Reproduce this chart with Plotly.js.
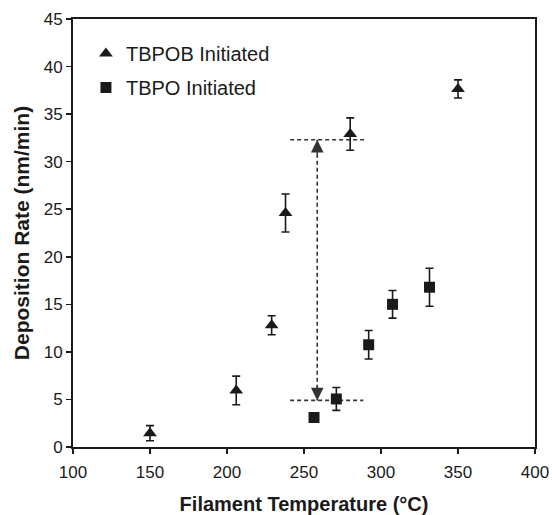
<!DOCTYPE html>
<html>
<head>
<meta charset="utf-8">
<script src="https://cdn.plot.ly/plotly-3.0.1.min.js"></script>
<style>html,body{margin:0;padding:0;background:#fff;}#chart{width:552px;height:515px;}</style>
</head>
<body>
<div id="chart"></div>
<script>
// TBPOB initiated (triangles)
const tbpobTemp = [150, 206, 229, 238, 280, 350];
const tbpobRate = [1.45, 5.95, 12.8, 24.6, 32.9, 37.65];
const tbpobErr  = [0.8, 1.5, 1.0, 2.0, 1.7, 0.95];
// TBPO initiated (squares)
const tbpoTemp = [256.5, 271, 292, 307.5, 331.5];
const tbpoRate = [3.1, 5.05, 10.75, 15.0, 16.8];
const tbpoErr  = [0, 1.2, 1.5, 1.45, 2.0];
// Dashed guide lines and arrow
const guideHighX = [241, 289];
const guideHighY = [32.3, 32.3];
const guideLowX = [241, 288.5];
const guideLowY = [4.9, 4.9];
const arrowX = [258.6, 258.6];
const arrowY = [32.3, 4.9];

const xTicks = [100, 150, 200, 250, 300, 350, 400];
const yTicks = [0, 5, 10, 15, 20, 25, 30, 35, 40, 45];

const ink = '#1a1a1a';
const errStyle = (arr) => ({type:'data', array: arr, visible:true, color: ink, thickness:1.6, width:4});

const traces = [
  {x: guideHighX, y: guideHighY, mode:'lines', line:{color:'#333', width:1.6, dash:'4px,3px'}, showlegend:false, hoverinfo:'skip'},
  {x: guideLowX, y: guideLowY, mode:'lines', line:{color:'#333', width:1.6, dash:'4px,3px'}, showlegend:false, hoverinfo:'skip'},
  {x: arrowX, y: arrowY, mode:'lines', line:{color:'#333', width:1.6, dash:'4px,3px'}, showlegend:false, hoverinfo:'skip'},
  {x: tbpobTemp, y: tbpobRate, name:'TBPOB Initiated', mode:'markers', type:'scatter',
   marker:{symbol:'triangle-up', size:12, color: ink}, error_y: errStyle(tbpobErr), legendgroup:'a'},
  {x: tbpoTemp, y: tbpoRate, name:'TBPO Initiated', mode:'markers', type:'scatter',
   marker:{symbol:'square', size:11, color: ink}, error_y: errStyle(tbpoErr), legendgroup:'b'}
];

const annotations = [
  {x: arrowX[0], y: arrowY[0], xref:'x', yref:'y', showarrow:true, ax:0, ay:16, arrowhead:2, arrowsize:1.8, arrowwidth:1.4, arrowcolor:'#333', text:''},
  {x: arrowX[1], y: arrowY[1], xref:'x', yref:'y', showarrow:true, ax:0, ay:-16, arrowhead:2, arrowsize:1.8, arrowwidth:1.4, arrowcolor:'#333', text:''}
];

const layout = {
  width:552, height:515,
  margin:{l:73, r:17, t:19, b:68, pad:0},
  paper_bgcolor:'#fff', plot_bgcolor:'#fff',
  font:{family:'"Liberation Sans", Arial, sans-serif', color:'#1a1a1a'},
  showlegend:true,
  legend:{x:0.028, y:0.965, xanchor:'left', yanchor:'top', bgcolor:'rgba(0,0,0,0)',
          font:{size:20, color:'#1a1a1a'}, traceorder:'grouped', tracegroupgap:5},
  xaxis:{range:[100,400], tickvals:xTicks, ticktext:xTicks.map(String), showgrid:false, zeroline:false,
         showline:true, linewidth:2, linecolor:ink, mirror:true, ticks:'outside', ticklen:5, tickwidth:1.5, tickcolor:ink,
         ticklabelstandoff:4,
         tickfont:{size:17}, title:{text:'<b>Filament Temperature (°C)</b>', font:{size:20}, standoff:20}},
  yaxis:{range:[0,45], tickvals:yTicks, ticktext:yTicks.map(String), showgrid:false, zeroline:false,
         showline:true, linewidth:2, linecolor:ink, mirror:true, ticks:'outside', ticklen:5, tickwidth:1.5, tickcolor:ink,
         tickfont:{size:17}, title:{text:'<b>Deposition Rate (nm/min)</b>', font:{size:21}, standoff:8}},
  annotations: annotations
};

Plotly.newPlot('chart', traces, layout, {staticPlot:true, displayModeBar:false});
</script>
</body>
</html>
